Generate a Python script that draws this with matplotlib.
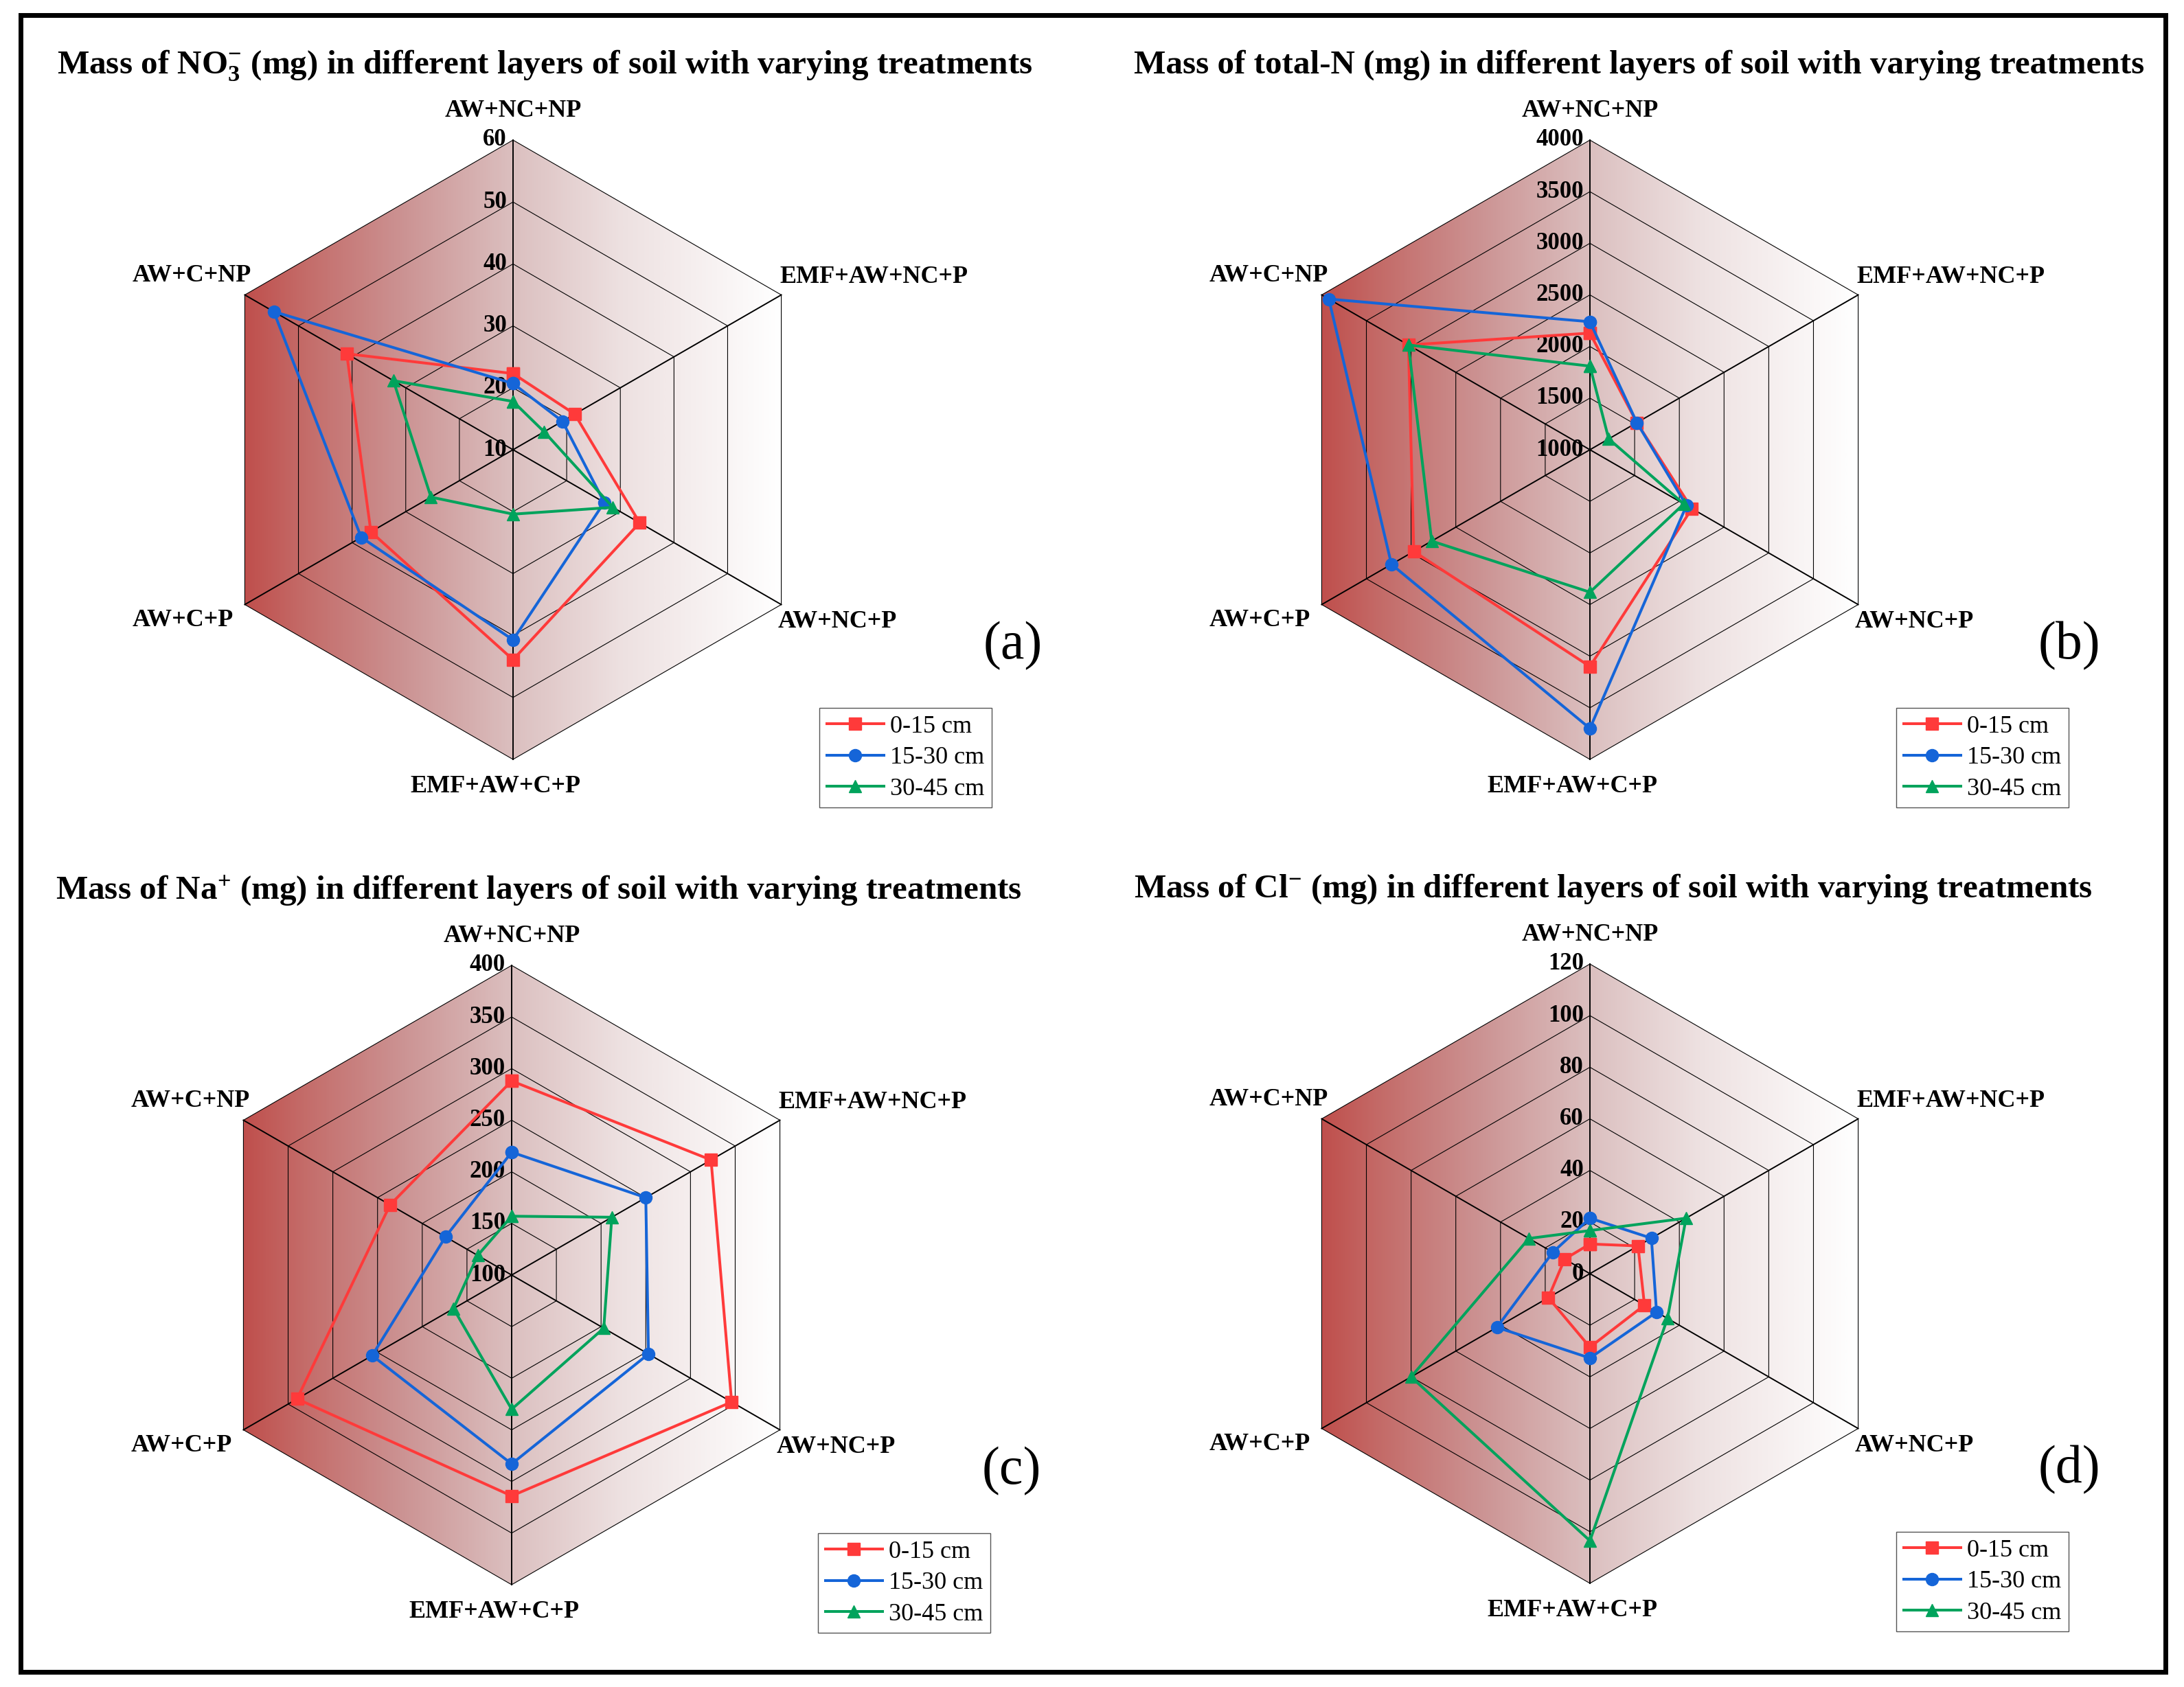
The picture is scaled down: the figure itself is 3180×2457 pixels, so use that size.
import matplotlib
matplotlib.use("Agg")
import matplotlib.pyplot as plt
import numpy as np
from matplotlib.colors import LinearSegmentedColormap
from matplotlib.lines import Line2D
from matplotlib.patches import Polygon, Rectangle

plt.rcParams["font.family"] = ["Liberation Serif", "DejaVu Serif"]
plt.rcParams["mathtext.fontset"] = "custom"
plt.rcParams["mathtext.rm"] = "Liberation Serif:bold"
plt.rcParams["mathtext.it"] = "Liberation Serif:bold:italic"
plt.rcParams["mathtext.bf"] = "Liberation Serif:bold"

# spokes, clockwise from the top
categories = ["AW+NC+NP", "EMF+AW+NC+P", "AW+NC+P", "EMF+AW+C+P", "AW+C+P", "AW+C+NP"]
layers = ["0-15 cm", "15-30 cm", "30-45 cm"]

# (a) NO3- (mg)
no3_0_15 = [22.3, 21.5, 33.6, 43.9, 36.5, 41.0]
no3_15_30 = [20.7, 19.2, 27.0, 40.7, 38.3, 54.6]
no3_30_45 = [17.8, 15.8, 28.6, 20.4, 25.3, 32.3]
no3_ticks = [10, 20, 30, 40, 50, 60]

# (b) total-N (mg)
tn_0_15 = [2130, 1525, 2140, 3100, 2970, 3030]
tn_15_30 = [2240, 1525, 2080, 3700, 3220, 3920]
tn_30_45 = [1810, 1210, 2050, 2380, 2770, 3030]
tn_ticks = [1000, 1500, 2000, 2500, 3000, 3500, 4000]

# (c) Na+ (mg)
na_0_15 = [288, 323, 346, 314, 340, 236]
na_15_30 = [219, 250, 253, 283, 256, 174]
na_30_45 = [157, 212, 203, 230, 165, 138]
na_ticks = [100, 150, 200, 250, 300, 350, 400]

# (d) Cl- (mg)
cl_0_15 = [11.5, 21.5, 24.4, 28.5, 18.6, 11.3]
cl_15_30 = [21.5, 27.5, 29.8, 32.7, 41.6, 16.6]
cl_30_45 = [16.7, 43.0, 34.7, 103.5, 80.0, 27.3]
cl_ticks = [0, 20, 40, 60, 80, 100, 120]

titles = [
    "Mass of NO$_3^{-}$ (mg) in different layers of soil with varying treatments",
    "Mass of total-N (mg) in different layers of soil with varying treatments",
    "Mass of Na$^{+}$ (mg) in different layers of soil with varying treatments",
    "Mass of Cl$^{-}$ (mg) in different layers of soil with varying treatments",
]
panel_tags = ["(a)", "(b)", "(c)", "(d)"]

W, H, DPI = 3180, 2457, 100
R_PX = 451.0  # hexagon radius in pixels
ANGLES = np.deg2rad([90, 30, -30, -90, -150, 150])
COLORS = ["#FF3A3A", "#1565D8", "#00A35C"]
MARKERS = ["s", "o", "^"]

bg_cmap = LinearSegmentedColormap.from_list(
    "redfade",
    [(0.0, (0.75, 0.31, 0.30)), (0.12, (0.77, 0.43, 0.42)), (0.3, (0.80, 0.58, 0.58)),
     (0.5, (0.86, 0.75, 0.75)), (0.7, (0.93, 0.88, 0.88)), (1.0, (1.0, 1.0, 1.0))],
)


def px(v):
    return v / R_PX


def add_panel_axes(fig, cx, cy, left=720, right=800, up=630, down=560):
    ax = fig.add_axes([(cx - left) / W, (H - cy - down) / H, (left + right) / W, (up + down) / H])
    ax.set_axis_off()
    return ax, (-px(left), px(right)), (-px(down), px(up))


def draw_radar(ax, lims, series, ticks, title, tag, tag_x):
    vmin, vmax = ticks[0], ticks[-1]
    cs, sn = np.cos(ANGLES), np.sin(ANGLES)
    hx = np.append(cs, cs[0])
    hy = np.append(sn, sn[0])

    # gradient background clipped to the outer hexagon
    grad = np.linspace(0, 1, 600).reshape(1, -1)
    im = ax.imshow(grad, cmap=bg_cmap, extent=(cs[1] * -1, cs[1], -1, 1), aspect="auto",
                   zorder=0, interpolation="bilinear")
    hexpatch = Polygon(np.column_stack([cs, sn]), closed=True, facecolor="none", edgecolor="none")
    ax.add_patch(hexpatch)
    im.set_clip_path(hexpatch)

    for t in ticks[1:]:
        r = (t - vmin) / (vmax - vmin)
        ax.plot(r * hx, r * hy, color="black", lw=0.8, zorder=1)
    for c, s in zip(cs, sn):
        ax.plot([0, c], [0, s], color="black", lw=1.4, zorder=1)

    for t in ticks:
        r = (t - vmin) / (vmax - vmin)
        ax.text(-px(9), r, str(t), ha="right", va="center", fontsize=25,
                fontweight="bold", zorder=2)

    for vals, col, mk in zip(series, COLORS, MARKERS):
        r = (np.asarray(vals, dtype=float) - vmin) / (vmax - vmin)
        x = np.append(r * cs, r[0] * cs[0])
        y = np.append(r * sn, r[0] * sn[0])
        ax.plot(x, y, color=col, lw=2.9, marker=mk, ms=13, zorder=4, clip_on=False)

    lab_kw = dict(fontsize=26, fontweight="bold", va="center")
    ax.text(0, px(493), categories[0], ha="center", **lab_kw)
    ax.text(px(388), px(251), categories[1], ha="left", **lab_kw)
    ax.text(px(386), px(-251), categories[2], ha="left", **lab_kw)
    ax.text(px(-26), px(-491), categories[3], ha="center", **lab_kw)
    ax.text(px(-554), px(-249), categories[4], ha="left", **lab_kw)
    ax.text(px(-554), px(253), categories[5], ha="left", **lab_kw)

    ax.text(px(-664), px(560), title, ha="left", va="center", fontsize=35.4, fontweight="bold")
    ax.text(px(tag_x), px(-286), tag, ha="center", va="center", fontsize=56)

    handles = [Line2D([], [], color=c, marker=m, lw=2.9, ms=13) for c, m in zip(COLORS, MARKERS)]
    leg = ax.legend(handles, layers, loc="upper left", bbox_to_anchor=(px(446), px(-376)),
                    bbox_transform=ax.transData, frameon=True, fancybox=False,
                    edgecolor="#555555", framealpha=1, prop={"size": 26}, borderaxespad=0,
                    borderpad=0.3, handlelength=2.3, handletextpad=0.25, labelspacing=0.33)
    leg.get_frame().set_linewidth(1.0)

    ax.set_xlim(*lims[0])
    ax.set_ylim(*lims[1])


fig = plt.figure(figsize=(W / DPI, H / DPI), dpi=DPI)

centers = [(747, 655), (2315, 655), (745, 1857), (2315, 1855)]
tag_offsets = [728, 698, 728, 698]
all_series = [
    [no3_0_15, no3_15_30, no3_30_45],
    [tn_0_15, tn_15_30, tn_30_45],
    [na_0_15, na_15_30, na_30_45],
    [cl_0_15, cl_15_30, cl_30_45],
]
all_ticks = [no3_ticks, tn_ticks, na_ticks, cl_ticks]

for (cx, cy), series, ticks, title, tag, tx in zip(centers, all_series, all_ticks, titles,
                                                    panel_tags, tag_offsets):
    ax, xl, yl = add_panel_axes(fig, cx, cy)
    draw_radar(ax, (xl, yl), series, ticks, title, tag, tx)

# outer frame
fig.add_artist(Rectangle((30 / W, 1 - 2435 / H), (3153 - 30) / W, (2435 - 22) / H,
                         transform=fig.transFigure, fill=False, lw=5, ec="black"))

fig.savefig("out.png", dpi=DPI)
